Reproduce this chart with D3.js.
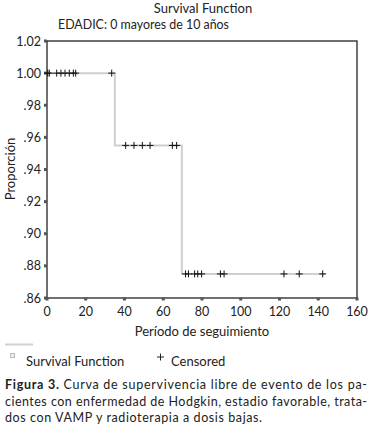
<!DOCTYPE html>
<html><head><meta charset="utf-8">
<script src="https://cdn.jsdelivr.net/npm/d3@7"></script>
<style>body{margin:0;background:#fff}svg{display:block;font-family:Lato,"Open Sans",sans-serif}</style>
</head><body><svg id="c" width="373" height="443"></svg>
<script>
// Survival step data
const stepTimes = [0, 35, 69.6, 143.5];
const stepValues = [1.0, 0.955, 0.875];
// Censored observations
const censoredTimes = [0.4, 1.2, 5, 7.2, 9.3, 11.5, 13.6, 14.8, 33.4,
  40.6, 44.9, 49.2, 53.2, 64.7, 66.9,
  71.5, 73, 76.2, 77.8, 79.8, 89.5, 91.4, 122.3, 130.2, 142.3];
const censoredValues = [1,1,1,1,1,1,1,1,1,
  0.955,0.955,0.955,0.955,0.955,0.955,
  0.875,0.875,0.875,0.875,0.875,0.875,0.875,0.875,0.875,0.875];
const xTicks = [0,20,40,60,80,100,120,140,160];
const yTicks = [1.02,1.00,0.98,0.96,0.94,0.92,0.90,0.88,0.86];
const yTickLabels = ["1.02","1.00",".98",".96",".94",".92",".90",".88",".86"];

const svg = d3.select("#c");
const L=47, T=41, W=310, H=257;
const x = d3.scaleLinear().domain([0,160]).range([L, L+W]);
const y = d3.scaleLinear().domain([0.86,1.02]).range([T+H, T]);

svg.append("text").attr("x",203).attr("y",12.5).attr("text-anchor","middle")
  .attr("font-size",13).attr("fill","#222").text("Survival Function");
svg.append("text").attr("x",58).attr("y",28.5).attr("font-size",13.5).attr("fill","#222")
  .attr("textLength",171).attr("lengthAdjust","spacingAndGlyphs").text("EDADIC: 0 mayores de 10 años");

// survival step line
const pts=[];
stepValues.forEach((v,i)=>{pts.push([stepTimes[i],v]);pts.push([stepTimes[i+1],v]);});
svg.append("path").attr("d", d3.line().x(d=>x(d[0])).y(d=>y(d[1])).curve(d3.curveLinear)(pts))
  .attr("fill","none").attr("stroke","#cfcfcf").attr("stroke-width",2);

// frame
svg.append("rect").attr("x",L).attr("y",T).attr("width",W).attr("height",H)
  .attr("fill","none").attr("stroke","#111").attr("stroke-width",1.2);

// ticks as small squares
svg.selectAll(".xt").data(xTicks).join("rect").attr("x",d=>x(d)-1.5).attr("y",T+H-0.5)
  .attr("width",3).attr("height",3).attr("fill","#555");
svg.selectAll(".yt").data(yTicks).join("rect").attr("x",L-3).attr("y",d=>y(d)-1.5)
  .attr("width",3).attr("height",3).attr("fill","#555");

svg.selectAll(".xl").data(xTicks).join("text").attr("x",d=>x(d)).attr("y",316)
  .attr("text-anchor","middle").attr("font-size",12.5).attr("fill","#222").text(d=>d);
svg.selectAll(".yl").data(yTicks).join("text").attr("x",41).attr("y",d=>y(d)+4.5)
  .attr("text-anchor","end").attr("font-size",12.5).attr("fill","#222").text((d,i)=>yTickLabels[i]);

svg.append("text").attr("x",202).attr("y",336).attr("text-anchor","middle")
  .attr("font-size",13).attr("fill","#222").text("Período de seguimiento");
svg.append("text").attr("transform","translate(14.5,169) rotate(-90)").attr("text-anchor","middle")
  .attr("font-size",13).attr("fill","#222").text("Proporción");

// censored marks
const cg = svg.append("g");
censoredTimes.forEach((t,i)=>{
  const cx=x(t), cy=y(censoredValues[i]);
  cg.append("path").attr("d",`M${cx-3.5},${cy}H${cx+3.5}M${cx},${cy-3.5}V${cy+3.5}`)
    .attr("stroke","#111").attr("stroke-width",1);
});

// legend
svg.append("line").attr("x1",5).attr("x2",33).attr("y1",344.5).attr("y2",344.5)
  .attr("stroke","#d0d0d0").attr("stroke-width",2);
svg.append("rect").attr("x",10.5).attr("y",353.5).attr("width",4).attr("height",4)
  .attr("fill","#eee").attr("stroke","#bbb").attr("stroke-width",1);
svg.append("text").attr("x",26).attr("y",366).attr("font-size",13).attr("fill","#222").text("Survival Function");
svg.append("path").attr("d","M157,357H164M160.5,353.5V360.5").attr("stroke","#222").attr("stroke-width",1);
svg.append("text").attr("x",171).attr("y",366).attr("font-size",13).attr("fill","#222").text("Censored");

// caption
const cap1 = svg.append("text").attr("x",5).attr("y",389).attr("font-size",12.5).attr("fill","#222")
  .attr("textLength",362).attr("lengthAdjust","spacing");
cap1.append("tspan").attr("font-weight","bold").text("Figura 3.");
cap1.append("tspan").text(" Curva de supervivencia libre de evento de los pa-");
svg.append("text").attr("x",5).attr("y",405.5).attr("font-size",12.5).attr("fill","#222")
  .attr("textLength",362).attr("lengthAdjust","spacing")
  .text("cientes con enfermedad de Hodgkin, estadio favorable, trata-");
svg.append("text").attr("x",5).attr("y",422).attr("font-size",12.5).attr("fill","#222")
  .attr("textLength",257).attr("lengthAdjust","spacing")
  .text("dos con VAMP y radioterapia a dosis bajas.");
</script></body></html>
